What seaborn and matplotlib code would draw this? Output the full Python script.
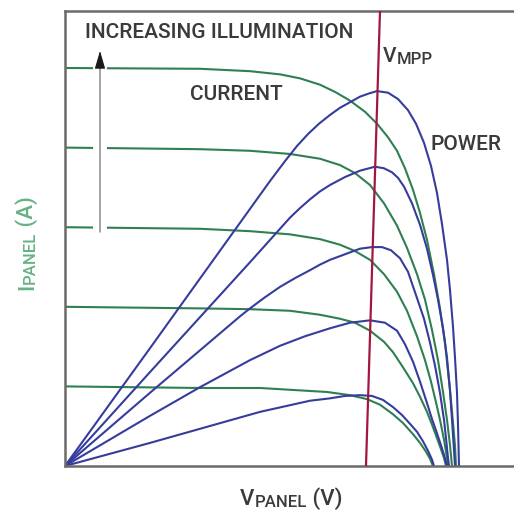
import pandas as pd
import matplotlib
matplotlib.use('Agg')
import matplotlib.pyplot as plt
import seaborn as sns
from matplotlib.transforms import offset_copy

# panel current vs voltage, one curve per illumination level (V, A)
i1_v = [0, 6.75, 9.75, 11.75, 13.1, 14.25, 15.1, 15.75, 16.4, 16.9, 17.4, 17.75, 18.05, 18.25, 18.4]
i1_a = [1.0, 0.98, 0.98, 0.95, 0.93, 0.89, 0.84, 0.77, 0.65, 0.54, 0.40, 0.29, 0.18, 0.09, 0]
i2_v = [0, 6.75, 9.25, 11.25, 12.75, 13.75, 14.5, 15.25, 15.95, 16.4, 16.9, 17.4, 17.75, 18.1,
        18.35, 18.6, 18.8, 18.95, 19.05]
i2_a = [2.0, 1.98, 1.97, 1.95, 1.90, 1.85, 1.80, 1.70, 1.56, 1.43, 1.24, 1.04, 0.87, 0.68,
        0.52, 0.35, 0.21, 0.10, 0]
i3_v = [0, 6.75, 9.25, 11.25, 12.75, 13.75, 14.5, 15.25, 15.95, 16.6, 17.1, 17.6, 18.0, 18.3,
        18.55, 18.75, 18.95, 19.05, 19.15]
i3_a = [3.0, 2.98, 2.95, 2.91, 2.85, 2.78, 2.70, 2.59, 2.41, 2.19, 1.95, 1.63, 1.33, 1.06,
        0.80, 0.58, 0.33, 0.18, 0]
i4_v = [0, 6.75, 9.25, 11.25, 12.75, 13.75, 14.5, 15.25, 15.95, 16.6, 17.1, 17.6, 18.0, 18.35,
        18.65, 18.9, 19.1, 19.25, 19.35]
i4_a = [4.0, 3.98, 3.96, 3.92, 3.86, 3.78, 3.68, 3.53, 3.30, 3.02, 2.74, 2.41, 2.09, 1.71,
        1.33, 0.93, 0.58, 0.26, 0]
i5_v = [0, 6.75, 9.25, 10.75, 11.75, 12.75, 13.5, 14.25, 15.0, 15.6, 16.15, 16.6, 17.0, 17.4,
        17.75, 18.1, 18.45, 18.75, 19.0, 19.25, 19.4, 19.5, 19.55]
i5_a = [5.0, 4.99, 4.96, 4.92, 4.87, 4.79, 4.70, 4.59, 4.45, 4.30, 4.13, 3.96, 3.74, 3.47,
        3.18, 2.84, 2.41, 1.98, 1.55, 0.95, 0.55, 0.25, 0]

# panel power for the same levels, drawn on the same (unmarked) vertical scale
p1_v = [0, 4.25, 9.75, 12.25, 13.25, 14.0, 14.75, 15.35, 15.9, 16.4, 16.85, 17.25, 17.6, 17.9,
        18.15, 18.35, 18.45]
p1_w = [0, 0.29, 0.68, 0.82, 0.85, 0.88, 0.89, 0.88, 0.83, 0.74, 0.64, 0.53, 0.43, 0.31,
        0.19, 0.08, 0]
p2_v = [0, 4.25, 6.75, 9.25, 10.75, 12.0, 13.25, 14.25, 15.25, 16.0, 16.6, 17.0, 17.4, 17.75,
        18.1, 18.35, 18.6, 18.8, 18.95, 19.1]
p2_w = [0, 0.63, 0.99, 1.33, 1.51, 1.63, 1.73, 1.80, 1.83, 1.80, 1.70, 1.53, 1.31, 1.06,
        0.79, 0.59, 0.41, 0.26, 0.14, 0]
p3_v = [0, 4.25, 8.75, 9.25, 10.0, 10.75, 11.5, 12.25, 12.75, 13.25, 14.0, 14.75, 15.35,
        15.85, 16.3, 16.75, 17.15, 17.6, 17.95, 18.25, 18.5, 18.75, 18.95, 19.05, 19.15, 19.2]
p3_w = [0, 0.92, 1.88, 1.98, 2.12, 2.25, 2.36, 2.46, 2.53, 2.59, 2.66, 2.73, 2.75,
        2.75, 2.71, 2.61, 2.44, 2.11, 1.85, 1.55, 1.26, 0.92, 0.58, 0.35, 0.10, 0]
p4_v = [0, 4.25, 9.25, 10.75, 11.25, 11.75, 12.25, 12.75, 13.25, 14.0, 14.75, 15.5, 15.95,
        16.35, 16.65, 16.95, 17.35, 17.75, 18.1, 18.4, 18.65, 18.9, 19.1, 19.25, 19.35,
        19.45, 19.5]
p4_w = [0, 1.18, 2.56, 2.98, 3.12, 3.24, 3.35, 3.45, 3.53, 3.63, 3.71, 3.76, 3.74,
        3.69, 3.62, 3.51, 3.30, 3.03, 2.73, 2.40, 2.09, 1.73, 1.36, 0.95, 0.58,
        0.20, 0]
p5_v = [0, 4.25, 9.25, 10.25, 11.0, 11.6, 12.15, 12.7, 13.25, 13.75, 14.25, 14.75, 15.2,
        15.6, 16.15, 16.65, 17.15, 17.55, 17.95, 18.3, 18.6, 18.85, 19.1, 19.25, 19.4,
        19.5, 19.6, 19.65, 19.7]
p5_w = [0, 1.48, 3.23, 3.58, 3.83, 4.02, 4.17, 4.30, 4.41, 4.50, 4.57, 4.64, 4.68,
        4.71, 4.69, 4.61, 4.47, 4.30, 4.06, 3.77, 3.43, 3.04, 2.59, 2.21, 1.75,
        1.36, 0.92, 0.52, 0]

# maximum power point voltage line
vmpp_v = [15.05, 15.75]
vmpp_y = [0.0, 5.72]

# illumination arrow (x, bottom, top)
arrow_v = 1.75
arrow_y = [2.94, 5.25]

GREEN = '#2f7f52'
BLUE = '#363c9c'
RED = '#a3173f'
TEXT = '#3a3a3a'
LABEL_GREEN = '#66b283'
FONT = ['Liberation Sans Narrow', 'Roboto', 'DejaVu Sans']

sns.set_style('white')
plt.rcParams['font.family'] = FONT

curves = {
    ('current', 1): (i1_v, i1_a), ('current', 2): (i2_v, i2_a),
    ('current', 3): (i3_v, i3_a), ('current', 4): (i4_v, i4_a),
    ('current', 5): (i5_v, i5_a),
    ('power', 1): (p1_v, p1_w), ('power', 2): (p2_v, p2_w),
    ('power', 3): (p3_v, p3_w), ('power', 4): (p4_v, p4_w),
    ('power', 5): (p5_v, p5_w),
}
rows = []
for (kind, level), (vs, ys) in curves.items():
    for v, y in zip(vs, ys):
        rows.append({'V': v, 'y': y, 'kind': kind, 'level': level})
df = pd.DataFrame(rows)

fig = plt.figure(figsize=(5.14, 5.13), dpi=100)
ax = fig.add_axes([65 / 514, 47 / 513, 465 / 514, 455 / 513])

sns.lineplot(data=df, x='V', y='y', hue='kind', units='level', estimator=None,
             palette={'current': GREEN, 'power': BLUE}, lw=1.5, legend=False,
             sort=False, ax=ax)
for line in ax.get_lines():
    line.set_solid_joinstyle('round')
ax.plot(vmpp_v, vmpp_y, color=RED, lw=1.6, zorder=6)

# white gap where the arrow crosses the current curves
ax.plot([arrow_v, arrow_v], [arrow_y[0] - 0.05, arrow_y[1] - 0.1], color='white',
        lw=10, solid_capstyle='butt', zorder=3)
ax.plot([arrow_v, arrow_v], [arrow_y[0], arrow_y[1] - 0.15], color='#8a8a8a', lw=1.1, zorder=4)
ax.annotate('', xy=(arrow_v, arrow_y[1]), xytext=(arrow_v, arrow_y[1] - 0.2),
            arrowprops=dict(arrowstyle='-|>,head_length=0.55,head_width=0.16',
                            color='#1a1a1a', lw=0.8, mutation_scale=20), zorder=5)

ax.set_xlim(0, 23.25)
ax.set_ylim(0, 5.716)
ax.set_xticks([])
ax.set_yticks([])
ax.set_xlabel('')
ax.set_ylabel('')
for side in ['left', 'bottom', 'top']:
    ax.spines[side].set_color('#6b6b6b')
    ax.spines[side].set_linewidth(1.8)
ax.spines['right'].set_visible(False)

ax.text(1.0, 5.377, 'INCREASING ILLUMINATION', fontsize=15, color=TEXT, ha='left',
        va='baseline', fontweight='medium')
ax.text(6.25, 4.60, 'CURRENT', fontsize=15, color=TEXT, ha='left', va='baseline',
        fontweight='medium')
ax.text(18.25, 3.97, 'POWER', fontsize=15, color=TEXT, ha='left', va='baseline',
        fontweight='medium')

renderer = fig.canvas.get_renderer()


def sub_label(x, y, parts, transform, rotation=0, color=TEXT):
    shift = 0.0
    for text, size, drop in parts:
        if rotation:
            tr = offset_copy(transform, fig=fig, x=drop, y=shift, units='dots')
        else:
            tr = offset_copy(transform, fig=fig, x=shift, y=-drop, units='dots')
        t = fig.text(x, y, text, transform=tr, fontsize=size, rotation=rotation,
                     rotation_mode='anchor', ha='left', va='baseline', color=color,
                     fontweight='medium')
        bb = t.get_window_extent(renderer)
        shift += bb.height if rotation else bb.width


sub_label(15.9, 5.075, [('V', 15, 0), ('MPP', 12, 2)], ax.transData)
sub_label(240 / 514, 1 - 505 / 513, [('V', 16, 0), ('PANEL', 12, 2), (' (V)', 16, 0)],
          fig.transFigure)
sub_label(33 / 514, 1 - 290 / 513, [('I', 16, 0), ('PANEL', 12, 2), (' (A)', 16, 0)],
          fig.transFigure, rotation=90, color=LABEL_GREEN)

fig.savefig('out.png', dpi=100, facecolor='white')
